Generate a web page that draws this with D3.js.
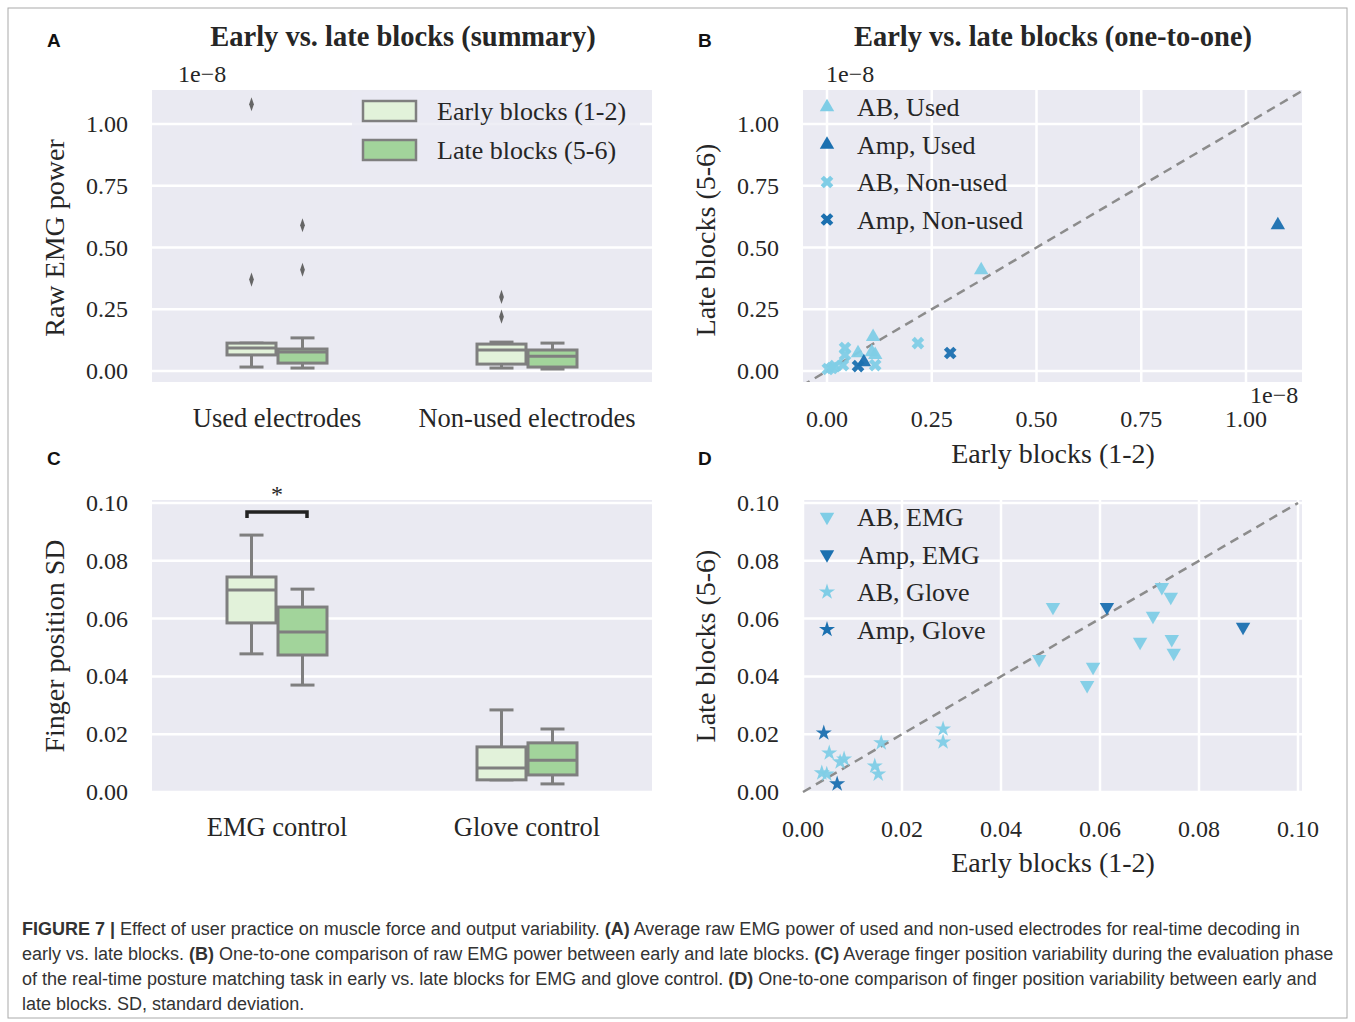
<!DOCTYPE html><html><head><meta charset="utf-8"><script src="https://d3js.org/d3.v7.min.js"></script>
<style>body{margin:0;background:#fff}</style></head><body><svg id="c" width="1355" height="1022"></svg>
<script>
// ---- data ----
const boxCatsA = ["Used electrodes","Non-used electrodes"];
// [whiskLo,q1,median,q3,whiskHi] ×1e-8
const boxA_early = [[0.016,0.065,0.093,0.113,0.113],[0.012,0.028,0.085,0.109,0.117]];
const boxA_late  = [[0.012,0.032,0.077,0.089,0.134],[0.008,0.016,0.060,0.085,0.113]];
const outA_early = [[0.37,1.08],[0.22,0.30]];
const outA_late  = [[0.41,0.59],[]];
const boxCatsC = ["EMG control","Glove control"];
const boxC_early = [[0.0478,0.0585,0.0699,0.0744,0.0889],[0.0042,0.0042,0.0083,0.0156,0.0284]];
const boxC_late  = [[0.037,0.0474,0.0554,0.064,0.0702],[0.0028,0.0059,0.011,0.017,0.0218]];
const B_ABused = [[0.368,0.409],[0.11,0.138],[0.107,0.077],[0.074,0.073],[0.115,0.065]];
const B_AmpUsed = [[0.088,0.036],[1.076,0.591]];
const B_ABnon = [[0.217,0.113],[0.043,0.093],[0.043,0.065],[0.038,0.024],[0.019,0.02],[0.002,0.008],[0.115,0.024],[0.012,0.012]];
const B_AmpNon = [[0.294,0.073],[0.074,0.02]];
const D_ABemg = [[0.0505,0.064],[0.0725,0.0709],[0.0743,0.0675],[0.0707,0.0609],[0.0681,0.0519],[0.0745,0.0529],[0.0749,0.0481],[0.0477,0.046],[0.0586,0.0433],[0.0574,0.037]];
const D_AmpEmg = [[0.0614,0.064],[0.0889,0.0571]];
const D_ABglove = [[0.0283,0.0218],[0.0283,0.0173],[0.0158,0.017],[0.0053,0.0135],[0.0075,0.0104],[0.0083,0.0114],[0.0145,0.009],[0.0152,0.0062],[0.0038,0.0066],[0.0048,0.0062]];
const D_AmpGlove = [[0.0042,0.0204],[0.0069,0.0028]];
const ticksE8 = [0,0.25,0.5,0.75,1.0];
const ticksSD = [0,0.02,0.04,0.06,0.08,0.10];

const svg=d3.select("#c");
const SERIF="Liberation Serif, Times New Roman, serif", SANS="Liberation Sans, Arial, sans-serif";
const BG="#eaeaf2", LIGHT="#7fcde6", DARK="#1b70b0", EARLY="#e2f2da", LATE="#a2d49b", EDGE="#7f7f7f";
svg.append("rect").attr("x",8).attr("y",8).attr("width",1339).attr("height",1010).attr("fill","none").attr("stroke","#aaa");

function panel(x0,x1,y0,y1,xs,ys,yt,yfmt,xt,xfmt){
  const g=svg.append("g");
  g.append("rect").attr("x",x0).attr("y",y0).attr("width",x1-x0).attr("height",y1-y0).attr("fill",BG);
  yt.forEach(t=>g.append("line").attr("x1",x0).attr("x2",x1).attr("y1",ys(t)).attr("y2",ys(t)).attr("stroke","#fff").attr("stroke-width",2.5));
  if(xt) xt.forEach(t=>g.append("line").attr("y1",y0).attr("y2",y1).attr("x1",xs(t)).attr("x2",xs(t)).attr("stroke","#fff").attr("stroke-width",2.5));
  yt.forEach(t=>g.append("text").attr("x",x0-24).attr("y",ys(t)+8).attr("text-anchor","end").attr("font-family",SERIF).attr("font-size",24).attr("fill","#262626").text(yfmt(t)));
  if(xt) xt.forEach(t=>g.append("text").attr("x",xs(t)).attr("y",y1+45).attr("text-anchor","middle").attr("font-family",SERIF).attr("font-size",24).attr("fill","#262626").text(xfmt(t)));
  return g;
}
const f2=d3.format(".2f");
function txt(x,y,s,size,opt={}){const t=svg.append("text").attr("x",x).attr("y",y).attr("font-family",opt.font||SERIF).attr("font-size",size).attr("fill",opt.fill||"#262626").attr("text-anchor",opt.anchor||"start").attr("font-weight",opt.bold?"bold":"normal").text(s);if(opt.rot)t.attr("transform",`rotate(-90,${x},${y})`);return t;}

function boxes(g,xs,ys,early,late,outE,outL){
  [[early,outE,-1,EARLY],[late,outL,0,LATE]].forEach(([data,outs,off,col])=>{
    data.forEach((d,i)=>{
      const c=xs(i), bw=49, xl=c+off*bw+(off?-1:1), xm=xl+bw/2;
      g.append("line").attr("x1",xm).attr("x2",xm).attr("y1",ys(d[0])).attr("y2",ys(d[1])).attr("stroke",EDGE).attr("stroke-width",3);
      g.append("line").attr("x1",xm).attr("x2",xm).attr("y1",ys(d[3])).attr("y2",ys(d[4])).attr("stroke",EDGE).attr("stroke-width",3);
      [d[0],d[4]].forEach(v=>g.append("line").attr("x1",xm-12).attr("x2",xm+12).attr("y1",ys(v)).attr("y2",ys(v)).attr("stroke",EDGE).attr("stroke-width",3));
      g.append("rect").attr("x",xl).attr("y",ys(d[3])).attr("width",bw).attr("height",ys(d[1])-ys(d[3])).attr("fill",col).attr("stroke",EDGE).attr("stroke-width",3);
      g.append("line").attr("x1",xl).attr("x2",xl+bw).attr("y1",ys(d[2])).attr("y2",ys(d[2])).attr("stroke",EDGE).attr("stroke-width",3);
      if(outs) outs[i].forEach(v=>g.append("path").attr("d",d3.symbol(d3.symbolDiamond,40)()).attr("transform",`translate(${xm},${ys(v)}) scale(0.7,1.2)`).attr("fill","#666"));
    });
  });
}
// Panel A
const xA=d3.scalePoint().domain([0,1]).range([277,527]);
const yA=d3.scaleLinear().domain([0,1]).range([371,124]);
const gA=panel(152,652,90,382,null,yA,ticksE8,f2,null);
boxes(gA,xA,yA,boxA_early,boxA_late,outA_early,outA_late);
boxCatsA.forEach((c,i)=>txt(xA(i),427,c,26.5,{anchor:"middle"}));
txt(178,82,"1e−8",24);
txt(403,46,"Early vs. late blocks (summary)",28.5,{bold:true,anchor:"middle"});
txt(64,238,"Raw EMG power",28,{rot:true,anchor:"middle"});
gA.append("rect").attr("x",352).attr("y",92).attr("width",288).attr("height",78).attr("fill",BG).attr("opacity",0.8);
[["Early blocks (1-2)",EARLY,111],["Late blocks (5-6)",LATE,150]].forEach(([s,c,y])=>{
  gA.append("rect").attr("x",363).attr("y",y-10).attr("width",53).attr("height",20).attr("fill",c).attr("stroke",EDGE).attr("stroke-width",2.5);
  txt(437,y+9,s,26);
});
// Panel C
const yC=d3.scaleLinear().domain([0,0.1]).range([792,503]);
const gC=panel(152,652,500,792,null,yC,ticksSD,f2,null);
boxes(gC,xA,yC,boxC_early,boxC_late,null,null);
boxCatsC.forEach((c,i)=>txt(xA(i),836,c,26.5,{anchor:"middle"}));
txt(64,646,"Finger position SD",28,{rot:true,anchor:"middle"});
gC.append("path").attr("d",`M247,518V512H307V518`).attr("fill","none").attr("stroke","#222").attr("stroke-width",3.5);
txt(277,502,"*",24,{anchor:"middle"});
// scatter panels
function scatter(g,xs,ys,sets){
  sets.forEach(([data,sym,col,rot,sz])=>data.forEach(d=>g.append("path").attr("d",d3.symbol(sym,sz)()).attr("transform",`translate(${xs(d[0])},${ys(d[1])}) rotate(${rot})`).attr("fill",col).attr("opacity",0.95)));
}
function legend(g,items,y0,step){
  items.forEach(([s,sym,col,rot,sz],i)=>{
    const y=y0+i*step;
    g.append("path").attr("d",d3.symbol(sym,sz)()).attr("transform",`translate(827,${y}) rotate(${rot})`).attr("fill",col);
    txt(857,y+9,s,26);
  });
}
// Panel B
const xB=d3.scaleLinear().domain([0,1]).range([827,1246]);
const yB=yA;
const gB=panel(803,1302,90,382,xB,yB,ticksE8,f2,ticksE8,f2);
gB.append("clipPath").attr("id","cb").append("rect").attr("x",803).attr("y",90).attr("width",499).attr("height",292);
gB.append("line").attr("x1",xB(-0.06)).attr("y1",yB(-0.06)).attr("x2",xB(1.2)).attr("y2",yB(1.2)).attr("stroke","#8c8c8c").attr("stroke-width",2.5).attr("stroke-dasharray","9,6").attr("clip-path","url(#cb)");
const setsB=[["AB, Used",d3.symbolTriangle,LIGHT,0,90],["Amp, Used",d3.symbolTriangle,DARK,0,90],["AB, Non-used",d3.symbolCross,LIGHT,45,100],["Amp, Non-used",d3.symbolCross,DARK,45,100]];
scatter(gB,xB,yB,[[B_ABused,...setsB[0].slice(1)],[B_AmpUsed,...setsB[1].slice(1)],[B_ABnon,...setsB[2].slice(1)],[B_AmpNon,...setsB[3].slice(1)]]);
legend(gB,setsB,107,37.5);
txt(826,82,"1e−8",24);txt(1250,403,"1e−8",24);
txt(1053,46,"Early vs. late blocks (one-to-one)",28.5,{bold:true,anchor:"middle"});
txt(715,240,"Late blocks (5-6)",28,{rot:true,anchor:"middle"});
txt(1053,463,"Early blocks (1-2)",28,{anchor:"middle"});
// Panel D
const xD=d3.scaleLinear().domain([0,0.1]).range([803,1298]);
const yD=yC;
const gD=panel(803,1302,500,792,xD,yD,ticksSD,f2,ticksSD,f2);
gD.append("line").attr("x1",xD(0)).attr("y1",yD(0)).attr("x2",xD(0.1)).attr("y2",yD(0.1)).attr("stroke","#8c8c8c").attr("stroke-width",2.5).attr("stroke-dasharray","9,6");
const setsD=[["AB, EMG",d3.symbolTriangle,LIGHT,180,90],["Amp, EMG",d3.symbolTriangle,DARK,180,90],["AB, Glove",d3.symbolStar,LIGHT,0,80],["Amp, Glove",d3.symbolStar,DARK,0,80]];
scatter(gD,xD,yD,[[D_ABemg,...setsD[0].slice(1)],[D_AmpEmg,...setsD[1].slice(1)],[D_ABglove,...setsD[2].slice(1)],[D_AmpGlove,...setsD[3].slice(1)]]);
legend(gD,setsD,517,37.5);
txt(715,646,"Late blocks (5-6)",28,{rot:true,anchor:"middle"});
txt(1053,872,"Early blocks (1-2)",28,{anchor:"middle"});
// panel letters
[["A",47,47],["B",698,47],["C",47,465],["D",698,465]].forEach(([s,x,y])=>txt(x,y,s,19,{font:SANS,bold:true,fill:"#111"}));
// caption
const cap=[
 [["FIGURE 7 | ",1],["Effect of user practice on muscle force and output variability. ",0],["(A)",1],[" Average raw EMG power of used and non-used electrodes for real-time decoding in",0]],
 [["early vs. late blocks. ",0],["(B)",1],[" One-to-one comparison of raw EMG power between early and late blocks. ",0],["(C)",1],[" Average finger position variability during the evaluation phase",0]],
 [["of the real-time posture matching task in early vs. late blocks for EMG and glove control. ",0],["(D)",1],[" One-to-one comparison of finger position variability between early and",0]],
 [["late blocks. SD, standard deviation.",0]]];
cap.forEach((line,i)=>{
  const t=svg.append("text").attr("x",22).attr("y",935+i*25).attr("font-family",SANS).attr("font-size",18).attr("fill","#333").attr("xml:space","preserve");
  line.forEach(([s,b])=>t.append("tspan").attr("font-weight",b?"bold":"normal").text(s));
});
</script></body></html>
